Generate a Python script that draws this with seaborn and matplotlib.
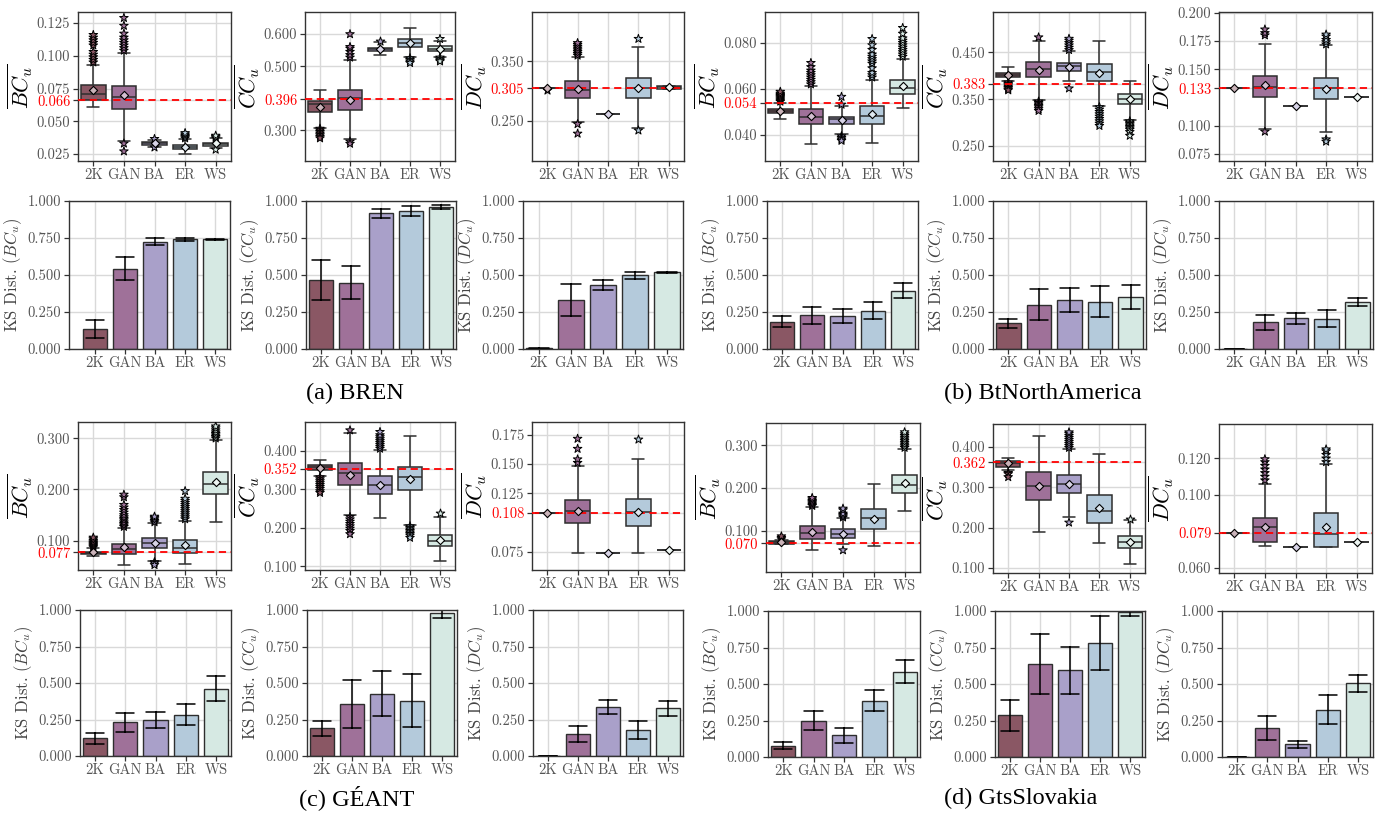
import numpy as np
import pandas as pd
import matplotlib
matplotlib.use("Agg")
import matplotlib.pyplot as plt
import matplotlib.colors as mcolors
import seaborn as sns

# ---------------- DATA ----------------
MODELS = ["2K", "GAN", "BA", "ER", "WS"]

# box stats per model: (whisker low, q1, median, q3, whisker high)
bren_bc_box = [(0.0607, 0.0664, 0.0708, 0.0777, 0.0929), (0.035, 0.0597, 0.0684, 0.0769, 0.1024),
               (0.0305, 0.0322, 0.0332, 0.0343, 0.0355), (0.0247, 0.0286, 0.0300, 0.0317, 0.0363),
               (0.0296, 0.0312, 0.0325, 0.0335, 0.0368)]
bren_bc_mean = [0.0736, 0.0697, 0.0333, 0.0304, 0.0330]
bren_bc_out = [[0.095, 0.097, 0.099, 0.101, 0.103, 0.108, 0.110, 0.112, 0.114, 0.116],
               [0.104, 0.106, 0.108, 0.110, 0.112, 0.114, 0.117, 0.123, 0.129, 0.033, 0.027],
               [0.0365, 0.030], [0.037, 0.038, 0.039, 0.040, 0.041], [0.037, 0.038, 0.039, 0.0283]]
bren_bc_ref = 0.066
bren_bc_ticks = [0.025, 0.050, 0.066, 0.075, 0.100, 0.125]

bren_cc_box = [(0.3084, 0.3565, 0.3805, 0.390, 0.4265), (0.2718, 0.3617, 0.400, 0.4265, 0.5185),
               (0.534, 0.547, 0.552, 0.557, 0.575), (0.529, 0.561, 0.573, 0.585, 0.619),
               (0.530, 0.547, 0.554, 0.562, 0.580)]
bren_cc_mean = [0.373, 0.395, 0.552, 0.573, 0.554]
bren_cc_out = [[0.305, 0.300, 0.295, 0.290, 0.285, 0.280, 0.275],
               [0.527, 0.535, 0.545, 0.555, 0.560, 0.600, 0.265, 0.258],
               [0.579], [0.525, 0.520, 0.515, 0.510], [0.585, 0.527, 0.522, 0.518, 0.515]]
bren_cc_ref = 0.396
bren_cc_ticks = [0.300, 0.396, 0.500, 0.600]

bren_dc_box = [(0.305, 0.305, 0.305, 0.305, 0.305), (0.2483, 0.2882, 0.3022, 0.3174, 0.3567),
               (0.2624, 0.2624, 0.2624, 0.2624, 0.2624), (0.2376, 0.2882, 0.305, 0.3225, 0.3736),
               (0.3045, 0.3045, 0.3067, 0.309, 0.309)]
bren_dc_mean = [0.305, 0.3034, 0.2624, 0.3062, 0.3075]
bren_dc_out = [[0.3025], [0.360, 0.363, 0.366, 0.369, 0.372, 0.375, 0.378, 0.381, 0.245, 0.229],
               [], [0.388, 0.2343], []]
bren_dc_ref = 0.305
bren_dc_ticks = [0.250, 0.305, 0.350]

btna_bc_box = [(0.047, 0.0495, 0.0503, 0.0512, 0.0538), (0.0359, 0.0447, 0.0477, 0.0512, 0.0611),
               (0.0405, 0.0448, 0.0468, 0.048, 0.0527), (0.0364, 0.0448, 0.0484, 0.0524, 0.064),
               (0.0515, 0.0577, 0.0605, 0.064, 0.073)]
btna_bc_mean = [0.0506, 0.0484, 0.0464, 0.0493, 0.0611]
btna_bc_out = [[0.0545, 0.055, 0.0555, 0.056, 0.0565, 0.057, 0.0575, 0.058, 0.0588],
               [0.062, 0.063, 0.064, 0.065, 0.066, 0.067, 0.068, 0.0695, 0.0713],
               [0.0532, 0.0566, 0.0395, 0.0388, 0.0381, 0.0375],
               [0.065, 0.066, 0.067, 0.069, 0.071, 0.072, 0.073, 0.074, 0.075, 0.077, 0.079, 0.0817],
               [0.074, 0.075, 0.076, 0.077, 0.078, 0.079, 0.080, 0.081, 0.082, 0.084, 0.0865]]
btna_bc_ref = 0.054
btna_bc_ticks = [0.040, 0.054, 0.060, 0.080]

btna_cc_box = [(0.3893, 0.3971, 0.4014, 0.4057, 0.4179), (0.3486, 0.3964, 0.4143, 0.4293, 0.4743),
               (0.3879, 0.41, 0.42, 0.4279, 0.4521), (0.3357, 0.3893, 0.4086, 0.425, 0.4736),
               (0.305, 0.3386, 0.3507, 0.3614, 0.3879)]
btna_cc_mean = [0.4014, 0.4129, 0.4193, 0.4064, 0.350]
btna_cc_out = [[0.386, 0.383, 0.380, 0.377, 0.374, 0.371, 0.369],
               [0.482, 0.345, 0.342, 0.339, 0.336, 0.333, 0.329, 0.325],
               [0.455, 0.460, 0.465, 0.470, 0.475, 0.479, 0.373],
               [0.333, 0.328, 0.323, 0.318, 0.313, 0.308, 0.303, 0.298, 0.293],
               [0.303, 0.300, 0.297, 0.294, 0.291, 0.288, 0.285, 0.280, 0.272]]
btna_cc_ref = 0.383
btna_cc_ticks = [0.250, 0.350, 0.383, 0.450]

btna_dc_box = [(0.133, 0.133, 0.133, 0.133, 0.133), (0.0969, 0.125, 0.1345, 0.144, 0.1725),
               (0.1174, 0.1174, 0.1174, 0.1174, 0.1174), (0.0946, 0.1233, 0.1333, 0.1422, 0.171),
               (0.125, 0.125, 0.125, 0.125, 0.125)]
btna_dc_mean = [0.133, 0.1357, 0.1174, 0.1328, 0.125]
btna_dc_out = [[], [0.180, 0.182, 0.1852, 0.0948], [],
               [0.172, 0.174, 0.176, 0.179, 0.1807, 0.088, 0.086], []]
btna_dc_ref = 0.133
btna_dc_ticks = [0.075, 0.100, 0.133, 0.150, 0.175, 0.200]

geant_bc_box = [(0.0706, 0.0732, 0.0758, 0.0784, 0.0856), (0.053, 0.0732, 0.0837, 0.0941, 0.1248),
                (0.0595, 0.0863, 0.0948, 0.1052, 0.134), (0.0549, 0.0752, 0.0863, 0.1013, 0.1392),
                (0.136, 0.1902, 0.2111, 0.2346, 0.2974)]
geant_bc_mean = [0.0777, 0.0869, 0.0961, 0.0915, 0.2137]
geant_bc_out = [[0.087, 0.089, 0.091, 0.093, 0.095, 0.097, 0.100, 0.103, 0.106],
                [0.127, 0.130, 0.133, 0.136, 0.140, 0.143, 0.146, 0.150, 0.155, 0.160, 0.165, 0.170, 0.185, 0.190],
                [0.136, 0.139, 0.142, 0.145, 0.147, 0.058, 0.056, 0.0523],
                [0.142, 0.146, 0.150, 0.154, 0.158, 0.162, 0.166, 0.170, 0.174, 0.178, 0.182, 0.197],
                [0.300, 0.303, 0.306, 0.309, 0.312, 0.316, 0.320, 0.3235]]
geant_bc_ref = 0.077
geant_bc_ticks = [0.077, 0.100, 0.200, 0.300]

geant_cc_box = [(0.3336, 0.3491, 0.3578, 0.3638, 0.3767), (0.2319, 0.3112, 0.3422, 0.3672, 0.4457),
                (0.2241, 0.287, 0.3095, 0.3336, 0.4009), (0.2069, 0.2974, 0.3302, 0.3586, 0.4388),
                (0.1147, 0.1517, 0.1655, 0.1819, 0.2267)]
geant_cc_mean = [0.3552, 0.3379, 0.3112, 0.3259, 0.1672]
geant_cc_out = [[0.331, 0.326, 0.321, 0.316, 0.311, 0.306, 0.301, 0.295, 0.2905],
                [0.4526, 0.228, 0.222, 0.216, 0.210, 0.204, 0.198, 0.192, 0.1836],
                [0.405, 0.410, 0.415, 0.420, 0.425, 0.430, 0.435, 0.440, 0.4483],
                [0.204, 0.200, 0.196, 0.192, 0.188, 0.184, 0.180, 0.1741],
                [0.2388]]
geant_cc_ref = 0.352
geant_cc_ticks = [0.100, 0.200, 0.300, 0.352, 0.400]

geant_dc_box = [(0.108, 0.108, 0.108, 0.108, 0.108), (0.0739, 0.0996, 0.1096, 0.1196, 0.1484),
                (0.0739, 0.0739, 0.0739, 0.0739, 0.0739), (0.0739, 0.0967, 0.109, 0.1199, 0.1541),
                (0.0765, 0.0765, 0.0765, 0.0765, 0.0765)]
geant_dc_mean = [0.108, 0.1096, 0.0739, 0.1087, 0.0765]
geant_dc_out = [[], [0.151, 0.154, 0.163, 0.1716], [], [0.1716], []]
geant_dc_ref = 0.108
geant_dc_ticks = [0.075, 0.108, 0.125, 0.150, 0.175]

slov_bc_box = [(0.068, 0.0695, 0.0727, 0.075, 0.0775), (0.0555, 0.0797, 0.0953, 0.1109, 0.1555),
               (0.068, 0.0828, 0.093, 0.1031, 0.1297), (0.0648, 0.1039, 0.1289, 0.1508, 0.2102),
               (0.1461, 0.1875, 0.2063, 0.2297, 0.2914)]
slov_bc_mean = [0.0734, 0.0977, 0.093, 0.1281, 0.2109]
slov_bc_out = [[0.080, 0.083, 0.0867],
               [0.158, 0.161, 0.164, 0.167, 0.170, 0.1735, 0.1766],
               [0.131, 0.134, 0.137, 0.140, 0.148, 0.1516, 0.054],
               [],
               [0.294, 0.298, 0.302, 0.306, 0.310, 0.314, 0.318, 0.322, 0.326, 0.3305]]
slov_bc_ref = 0.070
slov_bc_ticks = [0.070, 0.100, 0.200, 0.300]

slov_cc_box = [(0.342, 0.3511, 0.3594, 0.3644, 0.3735), (0.1903, 0.2682, 0.3022, 0.337, 0.4273),
               (0.2268, 0.2848, 0.308, 0.3296, 0.3942), (0.1613, 0.2127, 0.2425, 0.2807, 0.3834),
               (0.110, 0.1497, 0.1646, 0.1787, 0.2193)]
slov_cc_mean = [0.361, 0.303, 0.308, 0.2492, 0.1646]
slov_cc_out = [[0.336, 0.333, 0.3254], [],
               [0.398, 0.403, 0.408, 0.413, 0.418, 0.423, 0.428, 0.433, 0.4365, 0.2127],
               [], [0.221]]
slov_cc_ref = 0.362
slov_cc_ticks = [0.100, 0.200, 0.300, 0.362, 0.400]

slov_dc_box = [(0.079, 0.079, 0.079, 0.079, 0.079), (0.0717, 0.0741, 0.0822, 0.0875, 0.1061),
               (0.0716, 0.0716, 0.0716, 0.0716, 0.0716), (0.0716, 0.0716, 0.0785, 0.0901, 0.1169),
               (0.0741, 0.0741, 0.0741, 0.0741, 0.0741)]
slov_dc_mean = [0.079, 0.0826, 0.0716, 0.0822, 0.0741]
slov_dc_out = [[], [0.108, 0.110, 0.112, 0.114, 0.116, 0.118, 0.1196], [],
               [0.118, 0.120, 0.122, 0.124, 0.125], []]
slov_dc_ref = 0.079
slov_dc_ticks = [0.060, 0.079, 0.100, 0.120]

# KS distance bars: value and half error
bren_ks_bc = [0.135, 0.543, 0.725, 0.740, 0.742]
bren_ks_bc_err = [0.062, 0.078, 0.023, 0.010, 0.003]
bren_ks_cc = [0.465, 0.449, 0.917, 0.935, 0.958]
bren_ks_cc_err = [0.134, 0.110, 0.030, 0.033, 0.013]
bren_ks_dc = [0.005, 0.330, 0.435, 0.497, 0.517]
bren_ks_dc_err = [0.005, 0.110, 0.033, 0.025, 0.003]
btna_ks_bc = [0.185, 0.228, 0.222, 0.258, 0.395]
btna_ks_bc_err = [0.038, 0.057, 0.048, 0.057, 0.049]
btna_ks_cc = [0.175, 0.300, 0.333, 0.320, 0.350]
btna_ks_cc_err = [0.031, 0.104, 0.080, 0.105, 0.080]
btna_ks_dc = [0.002, 0.180, 0.208, 0.205, 0.315]
btna_ks_dc_err = [0.000, 0.053, 0.038, 0.058, 0.027]
geant_ks_bc = [0.120, 0.230, 0.247, 0.282, 0.462]
geant_ks_bc_err = [0.035, 0.064, 0.057, 0.071, 0.083]
geant_ks_cc = [0.190, 0.355, 0.427, 0.380, 0.978]
geant_ks_cc_err = [0.050, 0.166, 0.154, 0.180, 0.030]
geant_ks_dc = [0.000, 0.150, 0.335, 0.180, 0.327]
geant_ks_dc_err = [0.000, 0.056, 0.050, 0.062, 0.052]
slov_ks_bc = [0.078, 0.250, 0.150, 0.385, 0.585]
slov_ks_bc_err = [0.026, 0.068, 0.052, 0.072, 0.077]
slov_ks_cc = [0.285, 0.637, 0.593, 0.780, 0.990]
slov_ks_cc_err = [0.104, 0.205, 0.162, 0.185, 0.025]
slov_ks_dc = [0.000, 0.198, 0.087, 0.325, 0.505]
slov_ks_dc_err = [0.000, 0.083, 0.026, 0.100, 0.060]
ks_ticks = [0.0, 0.25, 0.5, 0.75, 1.0]

CAPTIONS = ["(a) BREN", "(b) BtNorthAmerica", "(c) GÉANT", "(d) GtsSlovakia"]
METRICS = ["BC", "CC", "DC"]

# ---------------- STYLE ----------------
PALETTE = ["#8a5764", "#9f7199", "#a9a0c9", "#b4cadb", "#d6e9e3"]
LIGHT = [mcolors.to_hex(0.45 * np.array(mcolors.to_rgb(c)) + 0.55) for c in PALETTE]
TICKC = "#555555"
SPINEC = "#333333"

sns.set_theme(style="whitegrid")
plt.rcParams.update({
    "font.family": ["cmr10", "DejaVu Serif"],
    "mathtext.fontset": "cm",
    "axes.formatter.use_mathtext": True,
    "axes.edgecolor": SPINEC,
    "axes.linewidth": 1.0,
    "grid.color": "#d9d9d9",
    "grid.linewidth": 1.0,
    "xtick.bottom": True,
    "ytick.left": True,
    "xtick.major.size": 3.5,
    "ytick.major.size": 3.5,
    "xtick.color": SPINEC,
    "ytick.color": SPINEC,
    "xtick.labelcolor": TICKC,
    "ytick.labelcolor": TICKC,
})

W, H = 1376, 814
fig = plt.figure(figsize=(W / 100, H / 100), dpi=100)


def rect(l, t, r, b):
    return [l / W, 1 - b / H, (r - l) / W, (b - t) / H]


def finish_axis(ax):
    ax.set_xlim(-0.5, 4.5)
    ax.set_xlabel("")
    ax.grid(True)
    ax.xaxis.grid(True)
    ax.set_axisbelow(True)
    for s in ax.spines.values():
        s.set_visible(True)
        s.set_color(SPINEC)
        s.set_linewidth(1.0)
    ax.tick_params(axis="both", labelsize=10.5, pad=2, length=3.5, width=0.9)


def draw_box(ax, stats, means, outs, ref, ticks, ylim, metric):
    rows = []
    for m, (lo, q1, med, q3, hi) in zip(MODELS, stats):
        vals = [lo] + [q1] * 20 + [med] * 20 + [q3] * 20 + [hi]
        rows += [(m, v) for v in vals]
    df = pd.DataFrame(rows, columns=["model", "value"])
    sns.boxplot(data=df, x="model", y="value", hue="model", order=MODELS, hue_order=MODELS,
                palette=PALETTE, whis=(0, 100), showfliers=False, width=0.8,
                linewidth=1.1, linecolor="#2e2e2e", saturation=1, legend=False, ax=ax)
    out_df = pd.DataFrame([(m, v) for m, o in zip(MODELS, outs) for v in o],
                          columns=["model", "value"])
    if len(out_df):
        sns.stripplot(data=out_df, x="model", y="value", hue="model", order=MODELS,
                      hue_order=MODELS, palette=PALETTE, jitter=False, marker="*", size=6.5,
                      edgecolor="black", linewidth=0.7, legend=False, ax=ax, zorder=4)
    mean_df = pd.DataFrame({"model": MODELS, "value": means})
    sns.stripplot(data=mean_df, x="model", y="value", hue="model", order=MODELS,
                  hue_order=MODELS, palette=LIGHT, jitter=False, marker="D", size=4.2,
                  edgecolor="black", linewidth=0.8, legend=False, ax=ax, zorder=6)
    ax.axhline(ref, color="red", ls="--", lw=1.3, zorder=5, dashes=(4, 2.5))
    finish_axis(ax)
    ax.set_ylim(*ylim)
    ax.set_yticks(ticks)
    ax.set_yticklabels([f"{t:.3f}" for t in ticks])
    for t, lab in zip(ticks, ax.get_yticklabels()):
        if abs(t - ref) < 1e-9:
            lab.set_color("red")
    ax.set_ylabel(r"$\overline{%s_u}$" % metric, fontsize=16, color="black", labelpad=1)


def draw_bar(ax, vals, errs, metric, xlim_left=-0.5):
    rows = []
    for m, v, e in zip(MODELS, vals, errs):
        rows += [(m, v - e), (m, v + e)]
    df = pd.DataFrame(rows, columns=["model", "value"])
    sns.barplot(data=df, x="model", y="value", hue="model", order=MODELS, hue_order=MODELS,
                palette=PALETTE, errorbar=("pi", 100), capsize=0.6, saturation=1,
                err_kws={"color": "black", "linewidth": 1.1}, edgecolor="#2e2e2e",
                linewidth=1.0, width=0.8, legend=False, ax=ax)
    finish_axis(ax)
    ax.set_xlim(xlim_left, 4.5)
    ax.set_ylim(0, 1)
    ax.set_yticks(ks_ticks)
    ax.set_yticklabels([f"{t:.3f}" for t in ks_ticks])
    ax.set_ylabel(r"KS Dist. $(%s_u)$" % metric, fontsize=12, color="#444444", labelpad=3)


# ---------------- LAYOUT ----------------
box_sets = [
    [(bren_bc_box, bren_bc_mean, bren_bc_out, bren_bc_ref, bren_bc_ticks),
     (bren_cc_box, bren_cc_mean, bren_cc_out, bren_cc_ref, bren_cc_ticks),
     (bren_dc_box, bren_dc_mean, bren_dc_out, bren_dc_ref, bren_dc_ticks)],
    [(btna_bc_box, btna_bc_mean, btna_bc_out, btna_bc_ref, btna_bc_ticks),
     (btna_cc_box, btna_cc_mean, btna_cc_out, btna_cc_ref, btna_cc_ticks),
     (btna_dc_box, btna_dc_mean, btna_dc_out, btna_dc_ref, btna_dc_ticks)],
    [(geant_bc_box, geant_bc_mean, geant_bc_out, geant_bc_ref, geant_bc_ticks),
     (geant_cc_box, geant_cc_mean, geant_cc_out, geant_cc_ref, geant_cc_ticks),
     (geant_dc_box, geant_dc_mean, geant_dc_out, geant_dc_ref, geant_dc_ticks)],
    [(slov_bc_box, slov_bc_mean, slov_bc_out, slov_bc_ref, slov_bc_ticks),
     (slov_cc_box, slov_cc_mean, slov_cc_out, slov_cc_ref, slov_cc_ticks),
     (slov_dc_box, slov_dc_mean, slov_dc_out, slov_dc_ref, slov_dc_ticks)],
]
bar_sets = [
    [(bren_ks_bc, bren_ks_bc_err), (bren_ks_cc, bren_ks_cc_err), (bren_ks_dc, bren_ks_dc_err)],
    [(btna_ks_bc, btna_ks_bc_err), (btna_ks_cc, btna_ks_cc_err), (btna_ks_dc, btna_ks_dc_err)],
    [(geant_ks_bc, geant_ks_bc_err), (geant_ks_cc, geant_ks_cc_err), (geant_ks_dc, geant_ks_dc_err)],
    [(slov_ks_bc, slov_ks_bc_err), (slov_ks_cc, slov_ks_cc_err), (slov_ks_dc, slov_ks_dc_err)],
]

box_rects = [
    [(78, 12, 231, 161), (305, 12, 455, 161), (532, 12, 684, 161)],
    [(765, 12, 918, 161), (993, 12, 1145, 161), (1219, 12, 1372, 161)],
    [(78, 422, 231, 570), (305, 422, 455, 570), (532, 422, 684, 570)],
    [(766, 423, 920, 572), (993, 424, 1145, 573), (1219, 424, 1372, 573)],
]
box_ylims = [
    [(0.0196, 0.1335), (0.204, 0.669), (0.183, 0.433)],
    [(0.0287, 0.0934), (0.218, 0.536), (0.0688, 0.2006)],
    [(0.0425, 0.332), (0.0905, 0.474), (0.0593, 0.1859)],
    [(0.003, 0.352), (0.0876, 0.457), (0.0571, 0.1389)],
]
bar_rects = [
    [(69, 201, 230, 349), (306, 201, 456, 349), (523, 201, 683, 349)],
    [(767, 201, 918, 349), (993, 201, 1146, 349), (1219, 201, 1373, 349)],
    [(80, 610, 231, 756), (307, 610, 457, 756), (533, 610, 683, 756)],
    [(768, 611, 920, 757), (995, 611, 1145, 757), (1222, 611, 1373, 757)],
]
caption_pos = [(355, 393), (1043, 393), (357, 798), (1021, 798)]

for p in range(4):
    for j in range(3):
        axb = fig.add_axes(rect(*box_rects[p][j]))
        st, mn, out, ref, tk = box_sets[p][j]
        draw_box(axb, st, mn, out, ref, tk, box_ylims[p][j], METRICS[j])
        axk = fig.add_axes(rect(*bar_rects[p][j]))
        v, e = bar_sets[p][j]
        draw_bar(axk, v, e, METRICS[j], xlim_left=(-0.85 if (p == 0 and j == 0) else -0.5))
    cx, cy = caption_pos[p]
    fig.text(cx / W, 1 - cy / H, CAPTIONS[p], ha="center", va="center", fontsize=17.5,
             family=["Liberation Serif", "DejaVu Serif"], color="black")

fig.savefig("out.png", dpi=100)
